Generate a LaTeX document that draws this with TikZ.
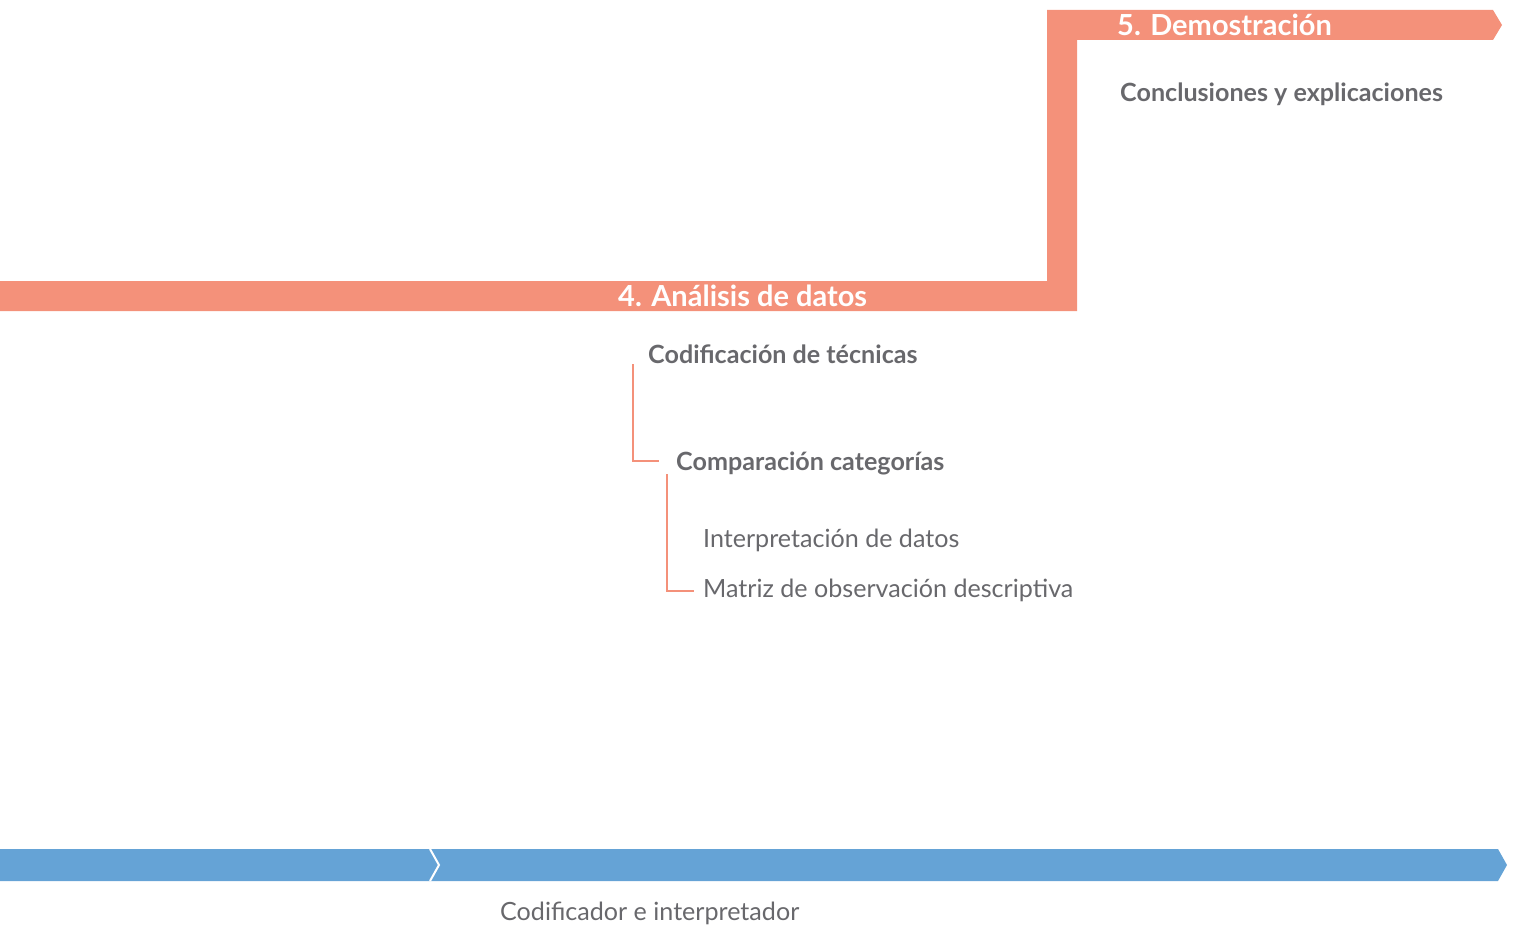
\documentclass[tikz,border=0pt]{standalone}
\usepackage{fontspec}
\setmainfont{Lato}
\usetikzlibrary{calc}
\definecolor{salmon}{RGB}{244,145,122}
\definecolor{steel}{RGB}{101,163,214}
\definecolor{ink}{RGB}{104,104,108}
\tikzset{
  phase/.style={anchor=base west, inner sep=0pt, text=white, font=\fontsize{29}{33}\selectfont\bfseries},
  item/.style={anchor=base west, inner sep=0pt, text=ink, font=\fontsize{25.1}{30}\selectfont\bfseries},
  sub/.style={anchor=base west, inner sep=0pt, text=ink, font=\fontsize{25.1}{30}\selectfont},
  link/.style={draw=salmon, line width=2.3pt},
}
\begin{document}
\begin{tikzpicture}[x=1pt,y=-1pt]
\useasboundingbox (0,0) rectangle (1515,928);
% stepped band for phases 4 and 5
\fill[salmon] (0,281) -- (1047,281) -- (1047,10) -- (1493,10) -- (1502,25)
  -- (1493,40) -- (1077,40) -- (1077,311) -- (0,311) -- cycle;
% role band along the bottom
\fill[steel] (0,849) -- (1498,849) -- (1507,865) -- (1498,881) -- (0,881) -- cycle;
\draw[white, line width=2pt] (430,849) -- (439,865) -- (430,881);

% phase titles
\node[phase] (p5) at (1117,36) {5. Demostración};
\node[phase] (p4) at (618,306) {4. Análisis de datos};

% phase contents
\node[item] (concl) at (1120,102) {Conclusiones y explicaciones};
\node[item] (cod) at (648,363) {Codificación de técnicas};
\node[item] (comp) at (676,470) {Comparación categorías};
\node[sub] (interp) at (703,547) {Interpretación de datos};
\node[sub] (matriz) at (703,597) {Matriz de observación descriptiva};

% role
\node[sub] (rol) at (500,920) {Codificador e interpretador};

% hierarchy connectors
\coordinate (c1) at ($(cod.base west)+(-15,1)$);
\coordinate (c2) at ($(comp.base west)+(-17,-9)$);
\draw[link] (c1) |- (c2);
\coordinate (c3) at ($(comp.base west)+(-9,4)$);
\coordinate (c4) at ($(matriz.base west)+(-9,-6)$);
\draw[link] (c3) |- (c4);
\end{tikzpicture}
\end{document}
